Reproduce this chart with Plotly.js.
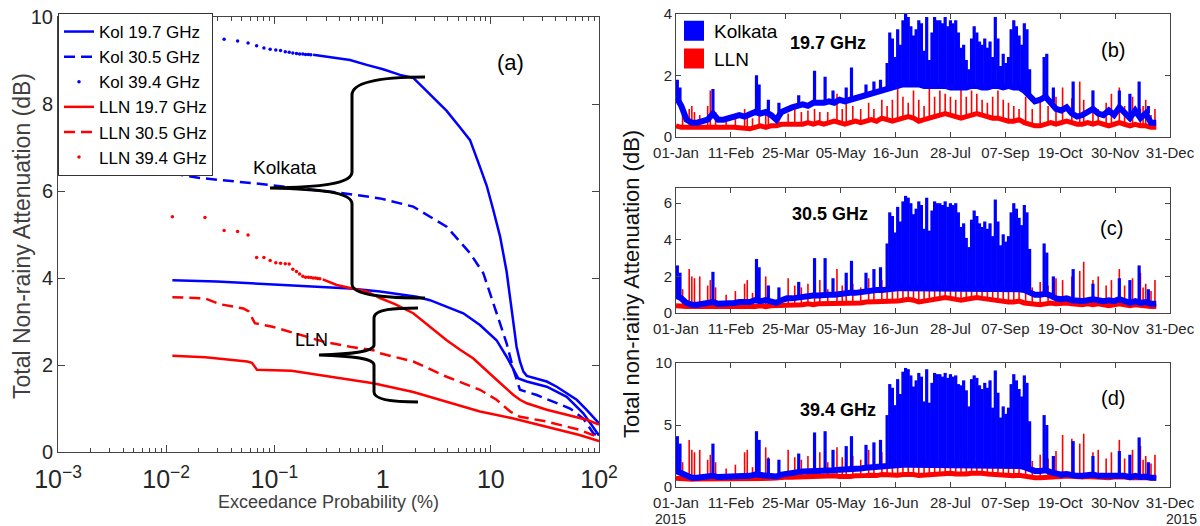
<!DOCTYPE html>
<html><head><meta charset="utf-8">
<script src="https://cdn.plot.ly/plotly-3.0.1.min.js"></script>
<style>html,body{margin:0;padding:0;background:#fff}#chart{width:1200px;height:526px}</style>
</head><body><div id="chart"></div>
<script>
// ---------- Panel (a): exceedance curves ----------
const kol197P = [0.0114, 0.0293, 0.121, 0.50, 0.946, 2.07, 2.74, 5.57, 7.94, 11.3, 14.0, 16.2, 18.0, 21.5, 32.9, 50.3, 71.6, 100];
const kol197V = [3.95, 3.92, 3.84, 3.76, 3.69, 3.57, 3.49, 3.19, 2.92, 2.57, 2.19, 1.89, 1.69, 1.62, 1.50, 1.27, 0.89, 0.38];
const kol305P = [0.0114, 0.0204, 0.0686, 0.185, 0.433, 0.946, 1.92, 3.91, 6.43, 8.53, 10.5, 14.0, 16.2, 18.6, 26.6, 37.8, 54.0, 71.6, 88.7, 100];
const kol305V = [6.40, 6.30, 6.17, 6.06, 5.95, 5.83, 5.64, 5.18, 4.57, 4.11, 3.45, 2.50, 1.89, 1.43, 1.31, 1.16, 1.00, 0.77, 0.43, 0.35];
const kol394DotP = [0.0228, 0.0343, 0.0457, 0.0571, 0.0685, 0.080, 0.0914, 0.103, 0.114, 0.126, 0.137, 0.148, 0.160, 0.171, 0.183, 0.194, 0.206, 0.217];
const kol394DotV = [9.55, 9.49, 9.45, 9.40, 9.34, 9.29, 9.26, 9.24, 9.23, 9.20, 9.19, 9.17, 9.16, 9.15, 9.15, 9.14, 9.14, 9.13];
const kol394LineP = [0.228, 0.348, 0.50, 0.713, 1.01, 1.45, 1.92, 2.36, 2.93, 3.91, 5.2, 6.43, 7.95, 9.17, 10.5, 12.2, 14.0, 15.1, 16.2, 17.3, 18.6, 20.0, 21.5, 26.6, 32.9, 40.7, 50.3, 62.2, 76.9, 91.8, 100];
const kol394LineV = [9.13, 9.07, 9.01, 8.90, 8.80, 8.67, 8.60, 8.38, 8.15, 7.84, 7.46, 7.17, 6.55, 6.12, 5.58, 4.95, 4.15, 3.5, 3.0, 2.42, 2.08, 1.85, 1.75, 1.69, 1.62, 1.50, 1.35, 1.20, 0.97, 0.77, 0.66];
const lln197P = [0.0114, 0.023, 0.056, 0.062, 0.069, 0.144, 0.331, 0.82, 1.92, 3.91, 7.94, 16.2, 32.9, 66, 100];
const lln197V = [2.21, 2.18, 2.08, 2.05, 1.89, 1.87, 1.73, 1.58, 1.38, 1.15, 0.93, 0.77, 0.58, 0.39, 0.25];
const lln305P = [0.0114, 0.023, 0.031, 0.0516, 0.058, 0.066, 0.096, 0.157, 0.281, 0.50, 0.82, 0.946, 1.92, 3.91, 7.94, 11.3, 15.1, 18.6, 32.9, 66, 88, 100];
const lln305V = [3.56, 3.53, 3.40, 3.30, 3.23, 2.96, 2.88, 2.73, 2.54, 2.42, 2.34, 2.27, 2.08, 1.73, 1.43, 1.20, 0.93, 0.81, 0.70, 0.51, 0.39, 0.30];
const lln394DotP = [0.0114, 0.0228, 0.0343, 0.0457, 0.0571, 0.0685, 0.080, 0.0914, 0.103, 0.114, 0.126, 0.137, 0.148, 0.160, 0.171, 0.183, 0.194, 0.206, 0.217, 0.228, 0.240, 0.251, 0.263];
const lln394DotV = [5.41, 5.39, 5.09, 5.07, 4.99, 4.47, 4.47, 4.40, 4.35, 4.34, 4.33, 4.32, 4.20, 4.15, 4.09, 4.04, 4.02, 4.02, 4.01, 4.00, 4.00, 3.99, 3.98];
const lln394LineP = [0.28, 0.377, 0.50, 0.577, 0.713, 0.946, 1.3, 1.92, 2.7, 3.91, 5.2, 6.9, 11.3, 16.2, 18.6, 21.5, 32.9, 50.3, 76.9, 100];
const lln394LineV = [3.97, 3.84, 3.77, 3.74, 3.69, 3.54, 3.40, 3.19, 2.90, 2.57, 2.35, 2.15, 1.66, 1.31, 1.20, 1.12, 0.97, 0.85, 0.74, 0.63];

// ---------- Panels (b)-(d): daily series (day offset from 01-Jan-2015) ----------
const tickDays = [0, 41.6, 83.2, 124.8, 166.4, 208, 249.6, 291.2, 332.8, 374.4];
const tickLabels = ['01-Jan','11-Feb','25-Mar','05-May','16-Jun','28-Jul','07-Sep','19-Oct','30-Nov','31-Dec'];
const yearLabel = '2015';

const baseDays = [0,4,8,12,16,20,24,28,32,36,40,44,48,52,56,60,64,68,72,76,80,84,88,92,96,100,104,108,112,116,120,124,128,132,136,140,144,148,152,156,160,164,168,172,176,180,184,188,192,196,200,204,208,212,216,220,224,228,232,236,240,244,248,252,256,260,264,268,272,276,280,284,288,292,296,300,304,308,312,316,320,324,328,332,336,340,344,348,352,356,360,364];

const kolBaseB = [1.3,1.0,0.55,0.45,0.45,0.5,0.55,0.75,0.55,0.55,0.6,0.6,0.7,0.65,0.7,0.8,0.75,0.8,0.7,0.55,0.8,0.9,0.95,1.0,1.05,1.0,1.1,1.1,1.1,1.15,1.1,1.2,1.15,1.2,1.25,1.3,1.4,1.45,1.5,1.5,1.6,1.65,1.65,1.7,1.7,1.7,1.7,1.65,1.65,1.65,1.65,1.65,1.6,1.6,1.6,1.6,1.65,1.65,1.6,1.6,1.65,1.65,1.6,1.65,1.6,1.6,1.5,1.3,1.15,1.2,1.3,1.1,0.9,0.85,0.95,0.75,0.65,0.7,0.8,0.9,0.75,0.7,0.85,0.7,0.95,0.75,0.6,0.85,0.6,0.75,0.45,0.45];
const llnBaseB = [0.35,0.3,0.3,0.28,0.3,0.3,0.28,0.3,0.3,0.32,0.3,0.3,0.28,0.3,0.25,0.3,0.35,0.3,0.35,0.35,0.4,0.4,0.38,0.4,0.4,0.45,0.4,0.45,0.4,0.45,0.5,0.45,0.4,0.45,0.5,0.45,0.5,0.55,0.5,0.6,0.55,0.5,0.55,0.6,0.65,0.6,0.5,0.55,0.6,0.65,0.7,0.75,0.7,0.65,0.6,0.65,0.7,0.75,0.7,0.65,0.6,0.6,0.55,0.5,0.5,0.55,0.45,0.4,0.35,0.35,0.4,0.45,0.4,0.45,0.5,0.45,0.4,0.4,0.45,0.4,0.45,0.4,0.35,0.4,0.45,0.4,0.35,0.4,0.35,0.35,0.3,0.3];
const kolBaseC = [0.95,0.8,0.55,0.45,0.45,0.5,0.5,0.6,0.5,0.5,0.55,0.55,0.6,0.6,0.6,0.7,0.65,0.7,0.65,0.55,0.7,0.8,0.8,0.85,0.9,0.9,0.95,0.95,1.0,1.0,1.0,1.05,1.05,1.1,1.1,1.15,1.2,1.2,1.25,1.25,1.3,1.3,1.35,1.35,1.35,1.35,1.3,1.3,1.3,1.3,1.3,1.3,1.3,1.3,1.3,1.3,1.3,1.3,1.3,1.3,1.3,1.3,1.3,1.3,1.3,1.3,1.25,1.1,1.0,1.0,1.05,0.95,0.8,0.75,0.8,0.7,0.65,0.65,0.7,0.75,0.7,0.65,0.7,0.65,0.75,0.65,0.55,0.65,0.55,0.6,0.5,0.5];
const llnBaseC = [0.4,0.35,0.35,0.35,0.35,0.35,0.35,0.35,0.35,0.38,0.35,0.35,0.35,0.35,0.32,0.35,0.4,0.35,0.4,0.4,0.45,0.45,0.45,0.45,0.45,0.5,0.45,0.5,0.5,0.5,0.55,0.5,0.5,0.5,0.55,0.55,0.6,0.6,0.6,0.65,0.6,0.6,0.65,0.7,0.75,0.7,0.6,0.65,0.7,0.75,0.8,0.85,0.8,0.75,0.7,0.75,0.8,0.85,0.8,0.75,0.7,0.7,0.65,0.6,0.6,0.65,0.55,0.5,0.45,0.45,0.5,0.55,0.5,0.55,0.55,0.5,0.45,0.45,0.5,0.45,0.5,0.45,0.4,0.45,0.5,0.45,0.4,0.45,0.4,0.4,0.35,0.35];
const kolBaseD = [1.3,1.1,0.85,0.75,0.75,0.8,0.8,0.9,0.8,0.8,0.85,0.85,0.9,0.9,0.9,1.0,0.95,1.0,0.95,0.85,1.0,1.1,1.15,1.2,1.25,1.25,1.3,1.3,1.35,1.35,1.35,1.4,1.4,1.45,1.5,1.5,1.55,1.6,1.65,1.65,1.7,1.75,1.75,1.8,1.8,1.8,1.8,1.75,1.75,1.75,1.75,1.75,1.75,1.75,1.75,1.75,1.75,1.75,1.75,1.75,1.75,1.75,1.75,1.75,1.7,1.7,1.6,1.4,1.3,1.3,1.35,1.2,1.05,1.0,1.05,0.95,0.9,0.9,0.95,1.0,0.9,0.9,0.95,0.9,1.0,0.9,0.8,0.9,0.8,0.85,0.75,0.75];
const llnBaseD = [0.7,0.65,0.65,0.62,0.65,0.65,0.62,0.65,0.65,0.68,0.65,0.65,0.62,0.65,0.6,0.65,0.7,0.65,0.7,0.72,0.78,0.8,0.78,0.8,0.8,0.85,0.8,0.85,0.82,0.85,0.9,0.85,0.82,0.85,0.9,0.88,0.92,0.95,0.92,1.0,0.95,0.92,0.95,1.0,1.05,1.0,0.92,0.95,1.0,1.05,1.1,1.15,1.1,1.05,1.0,1.05,1.1,1.15,1.1,1.05,1.0,1.0,0.95,0.9,0.9,0.95,0.85,0.8,0.75,0.75,0.8,0.85,0.8,0.85,0.88,0.85,0.8,0.8,0.85,0.8,0.85,0.8,0.75,0.8,0.85,0.8,0.75,0.8,0.75,0.75,0.7,0.7];

const kolSpikeDays = [1,3,28,61,63,70,78,93,105,113,119,129,133,144,150,155,
  160,162,164,166,168,170,172,174,176,178,180,182,184,186,188,190,192,194,196,198,200,202,204,206,208,210,212,214,216,218,220,222,224,226,228,230,232,234,236,238,240,242,244,246,248,250,252,254,256,258,260,262,264,266,268,
  279,281,286,301,316,336,344,351,358];
const kolTopsB = [1.85,1.6,1.55,2.0,1.7,1.2,1.1,1.35,2.15,1.95,1.5,1.6,2.25,1.7,1.8,1.85,
  2.4,3.4,3.2,2.6,3.5,3.0,3.8,4.0,3.9,3.6, 3.3,3.5,3.8,3.7,2.8,3.9,2.5,3.4,3.9,3.8, 3.8,3.7,3.9,3.6,3.8,3.7,3.8,3.4,2.9,3.0, 2.5,2.2,3.2,3.6,3.4,3.1,3.0,3.2,2.9,3.1, 2.6,3.9,3.2,2.3,2.7,2.4,2.6,3.5,3.8,3.6, 3.3,3.0,3.7,3.5,2.2,
  2.6,2.7,1.6,1.8,1.5,1.5,1.4,1.8,1.0];
const kolTopsC = [2.6,2.2,2.25,2.95,2.5,1.5,1.4,1.7,3.0,3.0,1.9,2.2,2.85,2.2,2.4,2.5,
  3.8,5.5,5.3,4.4,5.8,5.0,6.1,6.4,6.3,6.0, 5.4,5.7,6.1,5.9,4.6,6.3,4.5,5.6,6.1,6.0, 6.0,5.9,6.1,5.8,6.0,5.9,6.0,5.5,4.7,4.9, 4.1,3.6,5.1,5.6,5.3,4.9,4.7,5.0,4.6,4.9, 4.2,6.2,5.0,3.7,4.3,3.9,4.2,5.5,6.0,5.7, 5.2,4.8,5.9,5.5,3.5,
  3.8,3.3,2.0,2.4,1.6,1.9,1.8,2.6,1.3];
const kolTopsD = [4.1,3.5,3.5,4.5,3.8,2.3,2.2,2.7,4.4,4.5,3.0,3.3,4.1,3.4,3.6,3.8,
  5.8,8.3,8.0,6.6,8.7,7.5,9.3,9.6,9.5,9.0, 8.1,8.6,9.2,8.9,6.9,9.5,6.8,8.4,9.2,9.1, 9.1,8.9,9.2,8.8,9.1,8.9,9.0,8.3,8.2,8.6, 7.8,6.5,8.7,9.0,8.8,8.2,7.9,8.4,8.0,8.6, 6.4,9.4,7.6,5.6,6.5,5.9,6.4,8.3,9.1,8.6, 7.9,7.3,9.0,8.4,5.3,
  5.8,5.0,2.5,3.7,2.5,2.9,2.6,4.0,2.0];

const llnSpikeDays = [5,10,12,14,18,24,26,30,38,45,52,54,58,63,68,70,78,85,90,95,100,105,109,115,122,126,129,134,140,146,150,156,160,164,168,172,176,180,184,188,192,196,200,204,208,212,216,220,224,228,232,236,240,244,248,252,256,260,265,270,276,282,288,293,300,306,309,316,320,326,330,336,340,346,352,354,356,360,363];
const llnTopsB = [0.7,0.9,1.0,0.8,0.7,1.0,1.5,0.8,0.6,0.7, 0.9,0.7,0.6,0.8,0.7,0.7,0.6,0.75,0.9,0.8, 0.85,0.9,0.8,0.8,1.4,0.9,1.4,1.0,0.9,1.1, 0.9,1.2,1.0,1.2,1.85,1.3,1.1,1.5,1.2,1.0, 1.8,1.3,1.5,1.4,1.3,1.2,1.6,1.3,1.5,1.4, 1.2,1.1,1.3,1.5,1.2,1.1,1.0,0.9,1.3,0.9, 1.2,1.0,1.3,1.6,1.25,1.8,1.2,1.5,0.9,1.1, 1.4,1.6,1.0,1.3,0.9,1.0,1.2,0.7,0.9];
const llnTopsC = [1.3,2.4,2.0,1.9,2.0,1.5,1.8,1.4,1.0,1.2, 1.6,1.8,1.1,1.3,2.0,1.5,1.1,1.9,1.5,1.4, 1.6,1.5,1.8,1.3,2.4,1.5,2.0,1.6,1.4,1.9, 1.5,1.8,1.6,3.5,2.3,1.9,1.7,2.2,1.8,1.5, 2.5,2.0,2.2,2.0,1.9,1.8,2.4,1.9,2.2,2.0, 1.7,1.6,1.9,2.2,1.7,1.6,1.5,1.4,1.8,1.4, 1.7,1.5,1.9,1.8,2.0,2.3,2.8,1.8,2.0,1.5, 1.8,2.4,1.5,1.9,2.2,1.4,1.6,1.2,1.8];
const llnTopsD = [2.0,3.8,3.0,2.8,3.0,2.2,2.6,2.0,1.5,1.8, 2.8,3.0,1.6,2.0,3.2,2.4,1.6,3.0,2.4,2.2, 2.5,2.3,2.8,2.0,3.2,2.4,3.0,2.5,2.2,3.0, 2.3,2.8,2.4,4.0,3.4,2.8,2.6,3.2,2.7,2.3, 3.6,3.0,3.3,3.0,2.8,2.7,3.5,2.8,3.2,3.0, 2.6,2.4,2.8,3.2,2.6,2.4,2.2,2.1,2.7,2.1, 2.6,2.3,2.9,4.2,3.9,3.5,4.3,2.8,3.0,2.3, 2.8,3.8,2.3,3.0,3.3,2.2,2.5,1.9,2.6];

// ---------- styling ----------
const BLUE = '#0000ff', RED = '#ff0000';
const FONT = 'Liberation Sans, Arial, sans-serif';
const NARROW = 'Liberation Sans Narrow, Arial Narrow, Liberation Sans, Arial, sans-serif';
const W = 1200, H = 526;
const px = v => v / W, py = v => 1 - v / H;

function spikeXY(sDays, sTops, bDays, bVals) {
  const x = [], y = [];
  const n = Math.min(sDays.length, sTops.length);
  for (let i = 0; i < n; i++) {
    let j = 0, best = 1e9;
    for (let k = 0; k < bDays.length; k++) {
      const d = Math.abs(bDays[k] - sDays[i]);
      if (d < best) { best = d; j = k; }
    }
    x.push(sDays[i], sDays[i], null);
    y.push(bVals[j], sTops[i], null);
  }
  return {x, y};
}

const traces = [];
// panel (a)
const A = {xaxis: 'x', yaxis: 'y', legend: 'legend'};
traces.push(Object.assign({x: kol197P, y: kol197V, mode: 'lines', name: 'Kol 19.7 GHz', line: {color: BLUE, width: 2.5}}, A));
traces.push(Object.assign({x: kol305P, y: kol305V, mode: 'lines', name: 'Kol 30.5 GHz', line: {color: BLUE, width: 2.5, dash: '11px,6px'}}, A));
traces.push(Object.assign({x: kol394DotP, y: kol394DotV, mode: 'markers', name: 'Kol 39.4 GHz', marker: {color: BLUE, size: 3.5}}, A));
traces.push(Object.assign({x: kol394LineP, y: kol394LineV, mode: 'lines', showlegend: false, line: {color: BLUE, width: 2.5}}, A));
traces.push(Object.assign({x: lln197P, y: lln197V, mode: 'lines', name: 'LLN 19.7 GHz', line: {color: RED, width: 2.5}}, A));
traces.push(Object.assign({x: lln305P, y: lln305V, mode: 'lines', name: 'LLN 30.5 GHz', line: {color: RED, width: 2.5, dash: '11px,6px'}}, A));
traces.push(Object.assign({x: lln394DotP, y: lln394DotV, mode: 'markers', name: 'LLN 39.4 GHz', marker: {color: RED, size: 3.5}}, A));
traces.push(Object.assign({x: lln394LineP, y: lln394LineV, mode: 'lines', showlegend: false, line: {color: RED, width: 2.5}}, A));

// panels (b)-(d)
const panels = [
  {xa: 'x2', ya: 'y2', kb: kolBaseB, lb: llnBaseB, kt: kolTopsB, lt: llnTopsB},
  {xa: 'x3', ya: 'y3', kb: kolBaseC, lb: llnBaseC, kt: kolTopsC, lt: llnTopsC},
  {xa: 'x4', ya: 'y4', kb: kolBaseD, lb: llnBaseD, kt: kolTopsD, lt: llnTopsD}
];
panels.forEach(p => {
  const ls = spikeXY(llnSpikeDays, p.lt, baseDays, p.lb);
  const ks = spikeXY(kolSpikeDays, p.kt, baseDays, p.kb);
  traces.push({x: baseDays, y: p.lb, mode: 'lines', showlegend: false, line: {color: RED, width: 5}, xaxis: p.xa, yaxis: p.ya});
  traces.push({x: ls.x, y: ls.y, mode: 'lines', showlegend: false, line: {color: RED, width: 1.6}, xaxis: p.xa, yaxis: p.ya});
  traces.push({x: baseDays, y: p.kb, mode: 'lines', showlegend: false, line: {color: BLUE, width: 6}, xaxis: p.xa, yaxis: p.ya});
  traces.push({x: ks.x, y: ks.y, mode: 'lines', showlegend: false, line: {color: BLUE, width: 3.2}, xaxis: p.xa, yaxis: p.ya});
});
traces.push({x: [null], y: [null], mode: 'markers', name: 'Kolkata', marker: {symbol: 'square', size: 16, color: BLUE, line: {width: 4, color: BLUE}}, xaxis: 'x2', yaxis: 'y2', legend: 'legend2'});
traces.push({x: [null], y: [null], mode: 'markers', name: 'LLN', marker: {symbol: 'square', size: 16, color: RED, line: {width: 4, color: RED}}, xaxis: 'x2', yaxis: 'y2', legend: 'legend2'});

const AX = '#444', TXT = '#262626';
const common = {showline: true, linecolor: AX, linewidth: 1, mirror: 'ticks', ticks: 'inside', tickcolor: AX, showgrid: false, zeroline: false};
function rx(anchor) {
  return Object.assign({}, common, {domain: [px(676), px(1170)], anchor: anchor, range: [0, 374.4],
    tickmode: 'array', tickvals: tickDays, ticktext: tickLabels, ticklen: 5, ticklabelstandoff: 2,
    tickfont: {family: FONT, size: 15, color: TXT}});
}
function ry(domain, anchor, range, vals) {
  return Object.assign({}, common, {domain: domain, anchor: anchor, range: range, tickmode: 'array', tickvals: vals,
    ticklen: 5, tickfont: {family: FONT, size: 15, color: TXT}});
}

const braceK = `M ${px(425)} ${py(77)} C ${px(390)} ${py(77)}, ${px(352)} ${py(80)}, ${px(352)} ${py(95)} L ${px(352)} ${py(172)} C ${px(352)} ${py(184)}, ${px(320)} ${py(187)}, ${px(270)} ${py(188)} C ${px(320)} ${py(189)}, ${px(352)} ${py(192)}, ${px(352)} ${py(204)} L ${px(352)} ${py(284)} C ${px(352)} ${py(296)}, ${px(390)} ${py(298)}, ${px(425)} ${py(298)}`;
const braceL = `M ${px(418)} ${py(308)} C ${px(395)} ${py(308)}, ${px(374)} ${py(309)}, ${px(374)} ${py(318)} L ${px(374)} ${py(345)} C ${px(374)} ${py(352)}, ${px(350)} ${py(354)}, ${px(319)} ${py(355)} C ${px(350)} ${py(356)}, ${px(374)} ${py(358)}, ${px(374)} ${py(365)} L ${px(374)} ${py(392)} C ${px(374)} ${py(400)}, ${px(395)} ${py(402)}, ${px(418)} ${py(402)}`;

function ann(text, x, y, size, extra) {
  return Object.assign({text: text, x: px(x), y: py(y), xref: 'paper', yref: 'paper', showarrow: false,
    xanchor: 'center', yanchor: 'middle', font: {family: FONT, size: size, color: '#000'}}, extra || {});
}

const layout = {
  width: W, height: H, margin: {l: 0, r: 0, t: 0, b: 0}, paper_bgcolor: '#fff', plot_bgcolor: '#fff',
  showlegend: true,
  xaxis: Object.assign({}, common, {type: 'log', range: [-3, 2], domain: [px(58), px(599)], anchor: 'y', dtick: 1,
    exponentformat: 'power', ticklen: 7, minor: {ticks: 'inside', ticklen: 4, dtick: 'D1', tickcolor: AX},
    tickfont: {family: FONT, size: 20, color: TXT}, ticklabelstandoff: 6}),
  yaxis: Object.assign({}, common, {range: [0, 10], domain: [py(452), py(17)], anchor: 'x', dtick: 2, ticklen: 7,
    tickfont: {family: FONT, size: 20, color: TXT}}),
  xaxis2: rx('y2'),
  xaxis3: rx('y3'),
  xaxis4: rx('y4'),
  yaxis2: ry([py(136.5), py(14)], 'x2', [0, 4], [0, 2, 4]),
  yaxis3: ry([py(313), py(188)], 'x3', [0, 6.83], [0, 2, 4, 6]),
  yaxis4: ry([py(487), py(363)], 'x4', [0, 10], [0, 5, 10]),
  legend: {x: px(58), y: py(13), xanchor: 'left', yanchor: 'top', bgcolor: '#fff', bordercolor: '#333', borderwidth: 1,
    font: {family: NARROW, size: 17, color: '#000'}, itemwidth: 30},
  legend2: {x: px(674), y: py(12), xanchor: 'left', yanchor: 'top', bgcolor: 'rgba(0,0,0,0)', borderwidth: 0,
    font: {family: FONT, size: 19, color: '#000'}, itemwidth: 30},
  shapes: [
    {type: 'path', xref: 'paper', yref: 'paper', path: braceK, line: {color: '#000', width: 3}, layer: 'above'},
    {type: 'path', xref: 'paper', yref: 'paper', path: braceL, line: {color: '#000', width: 3}, layer: 'above'}
  ],
  annotations: [
    ann('(a)', 510, 62, 22),
    ann('Kolkata', 285, 167, 19),
    ann('LLN', 311, 340, 18),
    ann('Exceedance Probability (%)', 328, 502, 18, {font: {family: FONT, size: 18, color: '#404040'}}),
    ann('Total Non-rainy Attenuation (dB)', 22, 236, 23, {textangle: -90, font: {family: FONT, size: 23, color: '#404040'}}),
    ann('Total non-rainy Attenuation (dB)', 631, 284, 22, {textangle: -90, font: {family: FONT, size: 22, color: '#111'}}),
    ann('<b>19.7 GHz</b>', 828, 43, 18),
    ann('<b>30.5 GHz</b>', 830, 214, 18),
    ann('<b>39.4 GHz</b>', 838, 410, 18),
    ann('(b)', 1113, 50, 20),
    ann('(c)', 1111, 228, 20),
    ann('(d)', 1113, 398, 20),
    ann(yearLabel, 670, 518.5, 14, {font: {family: FONT, size: 14, color: TXT}}),
    ann(yearLabel, 1181, 518.5, 14, {font: {family: FONT, size: 14, color: TXT}})
  ]
};

Plotly.newPlot('chart', traces, layout, {displayModeBar: false, staticPlot: true});
</script></body></html>
